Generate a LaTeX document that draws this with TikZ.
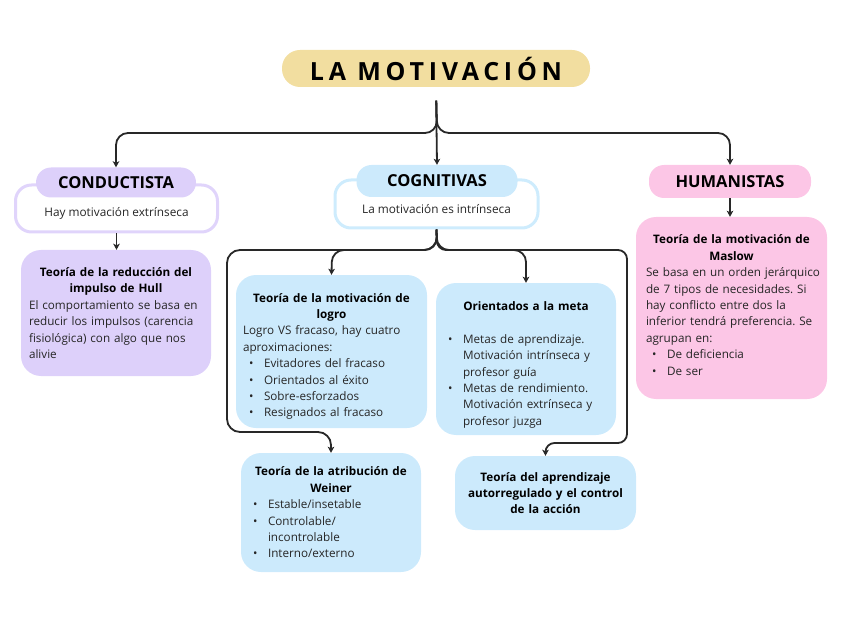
\documentclass[tikz,border=0pt]{standalone}
\usepackage{fontspec}
\setmainfont{Open Sans}
\newfontfamily\titlefont[LetterSpace=19]{Open Sans}
\usetikzlibrary{arrows.meta}
\definecolor{lav}{RGB}{221,208,250}
\definecolor{lavline}{RGB}{224,212,251}
\definecolor{sky}{RGB}{204,234,252}
\definecolor{skyline}{RGB}{206,236,253}
\definecolor{pinkc}{RGB}{252,198,230}
\definecolor{sand}{RGB}{242,222,160}
\definecolor{ink}{RGB}{40,40,40}
\newcommand\bl[1]{\par\noindent\hangindent=21pt\hangafter=1\makebox[21pt][l]{\hspace{6pt}\textbullet}#1}
\newcommand\ttl[1]{{\centering\bfseries\color{black}#1\par}}
\tikzset{
  conn/.style={draw=ink, line width=1.8pt, -{Stealth[length=6pt,width=6.5pt,inset=1.5pt]}},
  pill/.style={rounded corners=15pt, inner sep=0pt, font=\fontsize{16.5}{18}\selectfont\bfseries, text=black},
  outl/.style={rounded corners=16pt, line width=3pt, fill=white, inner sep=0pt, font=\fontsize{11.8}{16}\selectfont, text=black!85},
  card/.style={rounded corners=20pt, inner ysep=0pt, align=left, font=\fontsize{11.7}{16.4}\selectfont\frenchspacing, text=black!85},
}
\begin{document}
\begin{tikzpicture}[x=1pt,y=-1pt]
\useasboundingbox (0,0) rectangle (848,636);

% title
\node[fill=sand, rounded corners=18pt, minimum width=308pt, minimum height=37pt, inner sep=0pt,
      font=\titlefont\fontsize{25}{28}\selectfont\bfseries] (title) at (436,68.5) {LA MOTIVACIÓN};

% conductista
\node[outl, draw=lavline, minimum width=202pt, minimum height=47pt] (condbox) at (116.5,208.5) {\raisebox{-8.5pt}[0pt][0pt]{Hay motivación extrínseca}};
\node[pill, fill=lav, minimum width=160pt, minimum height=30pt] (condpill) at (116,182.5) {CONDUCTISTA};

% cognitivas
\node[outl, draw=skyline, minimum width=203pt, minimum height=48pt] (cogbox) at (436.5,204) {\raisebox{-10pt}[0pt][0pt]{La motivación es intrínseca}};
\node[pill, fill=sky, minimum width=161pt, minimum height=32pt] (cogpill) at (437,181) {COGNITIVAS};

% humanistas
\node[pill, fill=pinkc, minimum width=162pt, minimum height=33pt] (humpill) at (730,181.5) {HUMANISTAS};

% cards
\node[card, fill=lav, minimum height=126pt, text width=174pt, inner xsep=8pt] (hull) at (116,313) {%
\ttl{Teoría de la reducción del\\ impulso de Hull}
El comportamiento se basa en\\ reducir los impulsos (carencia\\ fisiológica) con algo que nos\\ alivie};

\node[card, fill=sky, minimum height=153pt, text width=177pt, inner xsep=7pt] (logro) at (331.5,351.5) {%
\ttl{\rule{0pt}{19pt}Teoría de la motivación de\\ logro}
\noindent Logro VS fracaso, hay cuatro\\ aproximaciones:
\bl{Evitadores del fracaso}
\bl{Orientados al éxito}
\bl{Sobre-esforzados}
\bl{Resignados al fracaso}\par};

\node[card, fill=sky, minimum height=152pt, text width=168pt, inner xsep=6pt] (meta) at (526,359) {%
\ttl{\rule{0pt}{21pt}Orientados a la meta}
\vspace{16pt}
\bl{Metas de aprendizaje.\newline Motivación intrínseca y\newline profesor guía}
\bl{Metas de rendimiento.\newline Motivación extrínseca y\newline profesor juzga}\par};

\node[card, fill=sky, minimum height=119pt, text width=168pt, inner xsep=6pt] (weiner) at (331,512.5) {%
\ttl{Teoría de la atribución de\\ Weiner}
\bl{Estable/insetable}
\bl{Controlable/\newline incontrolable}
\bl{Interno/externo}\par};

\node[card, fill=sky, minimum height=74pt, text width=171pt, inner xsep=5pt, align=center, text=black] (autor) at (545.5,493) {%
\bfseries Teoría del aprendizaje\\ autorregulado y el control\\ de la acción};

\node[card, fill=pinkc, minimum height=182pt, text width=171pt, inner xsep=10pt] (maslow) at (731.5,308) {%
\ttl{Teoría de la motivación de\\ Maslow}
\noindent\mbox{Se basa en un orden jerárquico}\\ de 7 tipos de necesidades. Si\\ hay conflicto entre dos la\\ inferior tendrá preferencia. Se\\ agrupan en:
\bl{De deficiencia}
\bl{De ser}\par
\vspace*{6pt}};

% top connectors
\draw[conn, rounded corners=12pt, shorten <=13.5pt] (title.south) -- (437,133) -- (116,133) -- (condpill.north);
\draw[conn, shorten <=13.5pt] (title.south) -- (cogpill.north);
\draw[conn, rounded corners=12pt, shorten <=13.5pt] (title.south) -- (437,133) -- (730,133) -- (humpill.north);

\draw[conn] (condbox.south) -- (condbox.south |- hull.north);
\draw[conn] (humpill.south) -- (humpill.south |- maslow.north);

% cognitivas connectors
\draw[conn, rounded corners=12pt] (cogbox.south) -- (437,250) -- (332,250) -- (logro.north);
\draw[conn, rounded corners=12pt] (cogbox.south) -- (437,250) -- (526,250) -- (meta.north);
\draw[conn, rounded corners=13pt] (cogbox.south) -- (437,250) -- (227,250) -- (227,432) -- (331,432) -- (weiner.north);
\draw[conn, rounded corners=9pt] (cogbox.south) -- (437,250) -- (627,250) -- (627,443) -- (545.5,443) -- (autor.north);
\end{tikzpicture}
\end{document}
